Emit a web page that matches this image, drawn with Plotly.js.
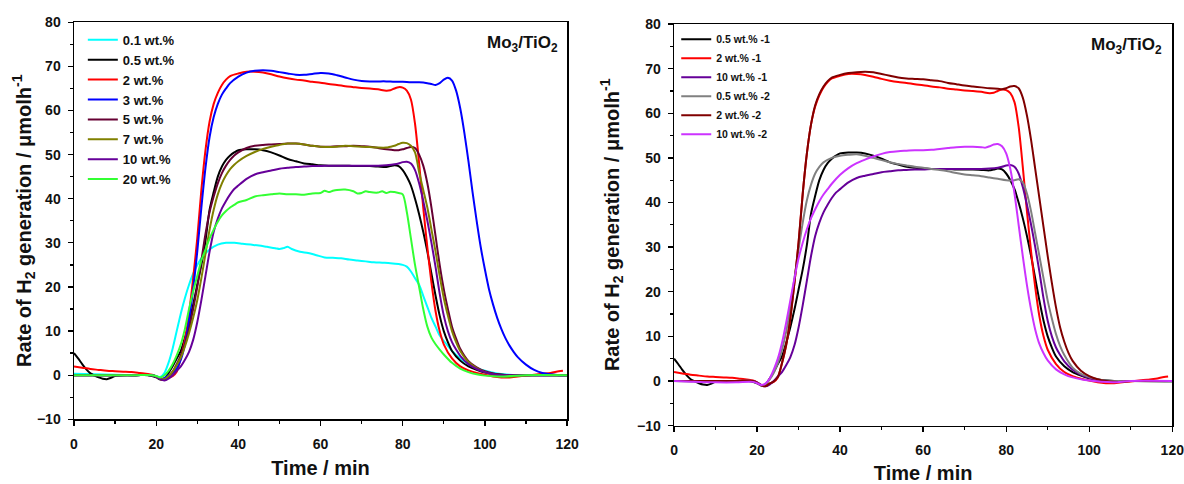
<!DOCTYPE html>
<html>
<head>
<meta charset="utf-8">
<script src="https://cdn.plot.ly/plotly-3.0.1.min.js"></script>
<style>html,body{margin:0;padding:0;background:#fff;}#chart{width:1184px;height:484px;}</style>
</head>
<body>
<div id="chart"></div>
<script>
// ---------- data (time in min, rate in µmol h^-1) ----------
var seriesNamesLeft = ["0.1 wt.%", "0.5 wt.%", "2 wt.%", "3 wt.%", "5 wt.%", "7 wt.%", "10 wt.%", "20 wt.%"];
var seriesNamesRight = ["0.5 wt.% -1", "2 wt.% -1", "10 wt.% -1", "0.5 wt.% -2", "2 wt.% -2", "10 wt.% -2"];

var t01 = [0,5,10,15,19,20,21,22,23,24,25,26,27,28,29,31,33,35,37,39,41,43,45,47,49,50,51,52,53,55,57,59,61,63,65,67,69,71,73,75,77,79,80,81,82,83,84,85,86,87,88,89,90,92,94,96,98,100,103,106,110,115,120];
var r01 = [0.3,0.2,0.1,0,0,-0.2,-0.4,0.5,2.8,6,10,14,17.5,20.5,23,26.5,28.5,29.6,30,30,29.8,29.6,29.4,29.1,28.8,28.6,28.8,29.1,28.6,28,27.7,27.2,26.7,26.6,26.5,26.2,26,25.8,25.6,25.5,25.4,25.2,25,24.6,23.5,22,20.5,18,15.5,13,11,9,7.8,5.5,3.8,2.5,1.6,1,0.4,0.1,0,0,0];

var t05 = [0,1,2,3,4,5,6,7,8,9,10,12,15,18,20,21,22,23,24,25,26,27,28,29,30,31,32,33,34,35,36,37,38,39,40,42,44,46,48,50,52,54,56,58,60,62,64,66,68,70,72,74,76,77,78,79,80,81,82,83,84,85,86,87,88,89,90,91,92,94,96,98,100,103,106,110,115,120];
var r05 = [5,3.8,2.5,1.3,0.4,-0.1,-0.5,-0.8,-0.9,-0.6,-0.2,0,0,0,-0.5,-1,-0.8,0.5,2,3.8,5.5,8.5,12,16,20.5,25,30.5,37.5,41.5,45,47.3,48.8,49.8,50.5,51,51.2,51.2,51,50.5,49.8,49,48.5,48,47.8,47.6,47.5,47.5,47.5,47.4,47.4,47.4,47.3,47.2,47.4,47.6,47.4,46.5,45,43,40,36.5,32.5,28,23,18,13.5,10,7.5,5.5,3.3,2,1.2,0.6,0.2,0,0,0,0];

var t2 = [0,2,4,6,8,10,12,14,16,18,19,20,21,22,23,24,25,26,27,28,29,30,31,32,33,34,35,36,37,38,40,42,44,46,48,50,52,54,56,58,60,62,64,66,68,70,72,74,76,77,78,79,80,81,82,83,84,85,86,87,88,89,90,92,94,96,98,100,102,104,106,108,110,112,114,116,118,119];
var r2 = [2,1.7,1.4,1.2,1,0.9,0.8,0.7,0.5,0.3,0.1,-0.3,-0.9,-1.1,-0.6,-0.2,0.8,4,8,14,22,31,42,51,57.5,61.5,64,65.8,67,67.8,68.4,68.8,68.8,68.6,68.2,67.7,67.3,67,66.8,66.5,66.3,66,65.8,65.5,65.3,65.1,65,64.8,64.5,64.6,65,65.3,65.2,64.5,62.5,57,48,38,29,21,14.5,10,7,3.8,2,1.1,0.5,0.1,-0.3,-0.5,-0.5,-0.3,-0.1,0.1,0.3,0.5,0.9,1.0];

var t3 = [0,5,10,15,19,20,21,22,23,24,25,26,27,28,29,30,31,32,33,34,35,36,37,38,40,42,44,46,48,50,52,54,56,58,60,62,64,66,68,70,72,74,76,78,80,82,84,86,87,88,89,90,91,92,93,94,95,96,97,98,99,100,101,102,103,104,105,106,107,108,110,112,114,116,118,120];
var r3 = [0,0,0,0,0,-0.3,-0.8,-0.6,0,0.5,1.5,3.5,7,12.5,19.5,28,38,47,54,58.5,61.5,63.6,65,66.2,67.7,68.6,69,69.1,69,68.7,68.4,68.1,68.1,68.3,68.5,68.4,68,67.5,67,66.7,66.6,66.6,66.6,66.5,66.5,66.4,66.4,66.2,66,65.8,66.2,67,67.4,66.8,64.5,60.5,55,48.5,41.5,35,29,24,19.5,16,13,10.5,8.4,6.7,5.3,4.1,2.4,1.2,0.5,0.2,0,0];

var t5 = [0,5,10,15,19,20,21,22,23,24,25,26,27,28,29,30,31,32,33,34,35,36,37,38,39,40,42,44,46,48,50,52,54,56,58,60,62,64,66,68,70,72,74,76,78,79,80,81,82,83,84,85,86,87,88,89,90,91,92,93,94,96,98,100,102,104,106,110,120];
var r5 = [0,0,0,0,0,-0.3,-0.8,-1,-0.3,0.8,2.5,4.5,7,10.5,15,20,26,32,37,40.5,43.5,45.8,47.5,48.8,49.8,50.5,51.5,52,52.2,52.3,52.4,52.5,52.5,52.3,52,51.8,51.8,51.9,51.9,52,51.9,51.8,51.5,51.2,51,51,51.2,51.5,51.7,51.5,50,47.5,43.5,38,31.5,25,19.5,15,11,8.3,6,3.2,1.8,0.9,0.4,0.1,0,0,0];

var t7 = [0,5,10,15,19,20,21,22,23,24,25,26,27,28,29,30,31,32,33,34,35,36,37,38,39,40,42,44,46,48,50,52,54,56,58,60,62,64,66,68,70,72,74,76,77,78,79,80,81,82,83,84,85,86,87,88,89,90,91,92,93,94,96,98,100,102,104,106,108,110,120];
var r7 = [0,0,0,0,0,-0.3,-0.8,-0.9,-0.2,0.8,2.3,4,6.5,9.5,13,17,22,27.5,33,37.5,41,43.5,45.3,46.7,47.7,48.5,49.7,50.6,51.3,51.8,52.2,52.5,52.5,52.3,52,51.8,51.7,51.8,52,51.9,51.8,51.7,51.6,51.6,51.8,52,52.4,52.7,52.6,52,50.5,46,42,38,33,28,22.5,17.5,13.5,10,7.5,5.5,3,1.6,0.7,0.1,-0.3,-0.4,-0.2,0,0];

var t10 = [0,5,10,15,19,20,21,22,23,24,25,26,27,28,29,30,31,32,33,34,35,36,37,38,39,40,42,44,46,48,50,52,54,56,58,60,62,64,66,68,70,72,74,76,78,79,80,81,82,83,84,85,86,87,88,89,90,91,92,93,94,96,98,100,102,104,110,120];
var r10 = [0,0,0,0,0,-0.3,-0.9,-1.2,-0.8,0,1,2,3.5,5.3,8,12,17,22.5,28,32.5,35.5,37.8,39.5,41,42.2,43,44.5,45.5,46,46.4,46.8,47,47.2,47.3,47.4,47.4,47.5,47.5,47.5,47.5,47.5,47.5,47.5,47.6,47.8,48,48.3,48.4,48,46.5,43.5,39.5,35,30,24.5,18.5,13.5,10,7.5,5.8,4.4,2.5,1.4,0.7,0.2,0,0,0];

var t20 = [0,5,10,15,19,20,21,22,23,24,25,26,27,28,29,30,31,32,33,34,35,36,37,38,39,40,42,44,46,48,50,52,54,56,58,60,61,62,63,64,66,68,69,70,71,72,74,75,76,77,78,79,80,81,82,83,84,85,86,87,88,89,90,92,94,96,98,100,103,106,110,120];
var r20 = [0,0,0,0,0,-0.2,-0.5,0,1,2.5,4.5,7,10.5,15,19,22.5,26,28.5,31,33,34.8,36.2,37.2,38,38.6,39.2,39.7,40.5,40.8,41,41.2,41,41,40.9,41.2,41.3,41.8,41.5,41.8,42,42.1,41.7,41.2,41.3,41.7,41.5,41.4,41.7,41.3,41.6,41.5,41.3,41,37,31,25,20,15,11,8.5,7,5.8,4.7,2.8,1.5,0.7,0.2,-0.1,-0.3,-0.2,0,0];

var tGray = [0,5,10,15,19,20,21,22,23,24,25,26,27,28,29,30,31,32,33,34,35,36,38,40,42,44,46,48,50,52,54,56,58,60,62,64,66,68,70,72,74,76,78,80,82,83,84,85,86,87,88,89,90,91,92,93,94,96,98,100,102,104,106,110,120];
var rGray = [0,-0.1,-0.1,0,0,-0.5,-1,-0.8,0.3,1.8,4,7,11,16.5,23,29.5,35.5,40.5,44,46.5,48,49,50,50.5,50.7,50.8,50.5,50,49.5,49,48.6,48.3,48,47.8,47.5,47.3,47,46.6,46.3,46.1,45.9,45.6,45.3,45,45,45.2,44.5,42,38,33,28,23,18,14,10.5,7.8,5.8,3,1.6,0.9,0.4,0.1,0,0,-0.2];

var tDark = [0,5,10,15,19,20,21,22,23,24,25,26,27,28,29,30,31,32,33,34,35,36,37,38,40,42,44,46,48,50,52,54,56,58,60,62,64,66,68,70,72,74,76,78,79,80,81,82,83,84,85,86,87,88,89,90,91,92,93,94,95,96,98,100,102,104,106,108,110,115,120];
var rDark = [0,0,0,0,0,-0.4,-1,-1.2,-0.6,-0.1,0.9,4,8,14,22,31,42,51,57.5,61.8,64.3,66,67.2,68,68.6,69,69.2,69.3,69.2,68.8,68.4,68,67.8,67.7,67.6,67.4,67.2,66.8,66.5,66.2,66,65.8,65.6,65.5,65.4,65.6,66,66.1,65.6,63.5,59.5,54,47.5,41,34.5,28,22,16.5,12,8.8,6.3,4.5,2.3,1.1,0.4,0,-0.2,-0.2,0,0,0];

var tMag = [0,5,10,15,19,20,21,22,23,24,25,26,27,28,29,30,31,32,33,34,35,36,37,38,40,42,44,46,48,50,52,54,56,58,60,62,64,66,68,70,72,74,75,76,77,78,79,80,81,82,83,84,85,86,87,88,89,90,92,94,96,98,100,103,106,110,120];
var rMag = [0,-0.2,-0.3,-0.3,-0.2,-0.5,-0.9,-0.6,0.5,2.5,5,8.5,13,18,23,27.5,31,34,36.5,38.5,40.3,41.8,43,44.2,46.2,47.7,48.8,49.6,50.3,50.9,51.3,51.5,51.6,51.7,51.7,51.8,52,52.2,52.4,52.5,52.5,52.4,52.3,52.6,53,53.1,52.6,51,47.5,42,35,28,21.5,16,11.5,8.3,6.2,4.6,2.6,1.5,0.8,0.4,0.1,-0.2,-0.3,0,0];

// ---------- styles ----------
var colorsLeft = ["#00ffff", "#000000", "#ff0000", "#0000ff", "#660033", "#808000", "#660099", "#33ff33"];
var colorsRight = ["#000000", "#ff0000", "#660099", "#808080", "#800000", "#cc33ff"];

var leftX = [t01, t05, t2, t3, t5, t7, t10, t20];
var leftY = [r01, r05, r2, r3, r5, r7, r10, r20];
var rightX = [t05, t2, t10, tGray, tDark, tMag];
var rightY = [r05, r2, r10, rGray, rDark, rMag];

var traces = [];
for (var i = 0; i < leftX.length; i++) {
  traces.push({
    x: leftX[i], y: leftY[i], name: seriesNamesLeft[i],
    type: "scatter", mode: "lines",
    line: {color: colorsLeft[i], width: 2, shape: "spline", smoothing: 0.8},
    xaxis: "x", yaxis: "y", legend: "legend"
  });
}
for (var j = 0; j < rightX.length; j++) {
  traces.push({
    x: rightX[j], y: rightY[j], name: seriesNamesRight[j],
    type: "scatter", mode: "lines",
    line: {color: colorsRight[j], width: 2, shape: "spline", smoothing: 0.8},
    xaxis: "x2", yaxis: "y2", legend: "legend2"
  });
}

var FONT = "Arial, 'Liberation Sans', Helvetica, sans-serif";
var yTitle = "Rate of H<sub>2</sub> generation / \u03bcmolh<sup>-1</sup>";

function xAxis(domain, anchor, standoff) {
  return {
    domain: domain, anchor: anchor, range: [0, 120],
    tickmode: "linear", tick0: 0, dtick: 20,
    ticks: "outside", ticklen: 5, tickwidth: 1.3, tickcolor: "#000",
    minor: {dtick: 10, ticks: "outside", ticklen: 3, tickwidth: 1.3, tickcolor: "#000"},
    showline: true, linecolor: "#000", linewidth: 1.5, mirror: true,
    showgrid: false, zeroline: false,
    ticklabelstandoff: 6, ticklabeloverflow: "allow",
    tickfont: {family: FONT, size: 14, color: "#111", weight: "bold"},
    title: {text: "Time / min", font: {family: FONT, size: 20, color: "#111", weight: "bold"}, standoff: standoff}
  };
}
function yAxis(domain, anchor, standoff) {
  return {
    domain: domain, anchor: anchor, range: [-10, 80],
    tickmode: "linear", tick0: 0, dtick: 10,
    ticks: "outside", ticklen: 5, tickwidth: 1.3, tickcolor: "#000",
    minor: {dtick: 5, ticks: "outside", ticklen: 3, tickwidth: 1.3, tickcolor: "#000"},
    showline: true, linecolor: "#000", linewidth: 1.5, mirror: true,
    showgrid: false, zeroline: false,
    ticklabelstandoff: 4, ticklabeloverflow: "allow",
    tickfont: {family: FONT, size: 14, color: "#111", weight: "bold"},
    title: {text: yTitle, font: {family: FONT, size: 20, color: "#111", weight: "bold"}, standoff: standoff}
  };
}

var layout = {
  width: 1184, height: 484,
  margin: {l: 74, r: 6, t: 22, b: 58},
  paper_bgcolor: "#fff", plot_bgcolor: "#fff",
  showlegend: true,
  xaxis: xAxis([0, 0.4466], "y", 10),
  yaxis: yAxis([0.0166, 0.9993], "x", 0),
  xaxis2: xAxis([0.5435, 0.9948], "y2", 15),
  yaxis2: yAxis([0.001, 0.995], "x2", 12),
  legend: {
    x: 0.008, y: 0.993, xanchor: "left", yanchor: "top",
    bgcolor: "rgba(0,0,0,0)", borderwidth: 0, tracegroupgap: 0,
    font: {family: FONT, size: 13, color: "#111", weight: "bold"}
  },
  legend2: {
    x: 0.5455, y: 0.993, xanchor: "left", yanchor: "top",
    bgcolor: "rgba(0,0,0,0)", borderwidth: 0, tracegroupgap: 0,
    font: {family: FONT, size: 10.5, color: "#111", weight: "bold"}
  },
  annotations: [
    {text: "Mo<sub>3</sub>/TiO<sub>2</sub>", xref: "x domain", yref: "y domain", x: 1, y: 1,
     xanchor: "right", yanchor: "top", xshift: -7, yshift: -9,
     showarrow: false, font: {family: FONT, size: 17, color: "#111", weight: "bold"}},
    {text: "Mo<sub>3</sub>/TiO<sub>2</sub>", xref: "x2 domain", yref: "y2 domain", x: 1, y: 1,
     xanchor: "right", yanchor: "top", xshift: -8, yshift: -9,
     showarrow: false, font: {family: FONT, size: 17, color: "#111", weight: "bold"}}
  ]
};

Plotly.newPlot("chart", traces, layout, {staticPlot: true, displayModeBar: false});
</script>
</body>
</html>
